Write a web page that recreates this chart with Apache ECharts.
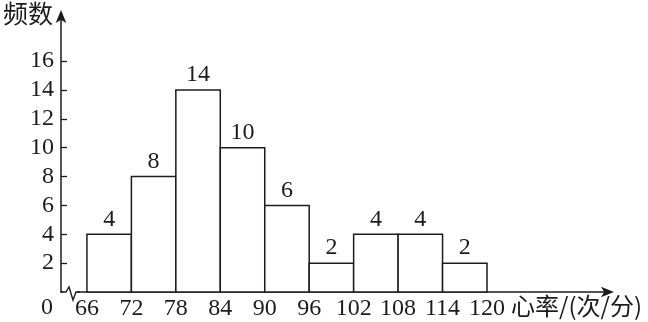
<!DOCTYPE html>
<html>
<head>
<meta charset="utf-8">
<style>html,body{margin:0;padding:0;background:#fff}#c{width:648px;height:322px}</style>
<script src="https://cdn.jsdelivr.net/npm/echarts@6/dist/echarts.min.js"></script>
</head>
<body>
<div id="c"></div>
<script>
var binStarts = [66, 72, 78, 84, 90, 96, 102, 108, 114];
var binEnds = [72, 78, 84, 90, 96, 102, 108, 114, 120];
var frequencies = [4, 8, 14, 10, 6, 2, 4, 4, 2];
var xTickLabels = [66, 72, 78, 84, 90, 96, 102, 108, 114, 120];
var yTickLabels = [2, 4, 6, 8, 10, 12, 14, 16];
var yTitle = '频数';
var xTitle = '心率/(次/分)';

var data = binStarts.map(function (s, i) { return [s, binEnds[i], frequencies[i]]; });
var ink = '#1c1c1c';
var serif = 'Liberation Serif';
var cjk = 'Noto Sans CJK SC';

var chart = echarts.init(document.getElementById('c'), null, {renderer: 'canvas'});
chart.setOption({
  animation: false,
  backgroundColor: '#fff',
  grid: {left: 61, right: 38, top: 14, bottom: 30, containLabel: false},
  xAxis: {
    type: 'value', min: 62.5, max: 136.6,
    splitLine: {show: false},
    axisLine: {show: true, lineStyle: {color: ink, width: 1.5}, symbol: ['none', 'arrow'], symbolSize: [8, 13], symbolOffset: [0, 4]},
    axisTick: {show: false},
    axisLabel: {customValues: xTickLabels, color: ink, fontFamily: serif, fontSize: 24, margin: 5, showMinLabel: true, showMaxLabel: true}
  },
  yAxis: {
    type: 'value', min: 0, max: 19.26,
    splitLine: {show: false},
    axisLine: {show: true, lineStyle: {color: ink, width: 1.5}, symbol: ['none', 'arrow'], symbolSize: [8, 13], symbolOffset: [0, 4]},
    axisTick: {show: true, inside: true, length: 6, customValues: yTickLabels, lineStyle: {color: ink, width: 1.3}},
    axisLabel: {customValues: yTickLabels, color: ink, fontFamily: serif, fontSize: 24, margin: 7}
  },
  series: [{
    type: 'custom',
    data: data,
    encode: {x: [0, 1], y: 2},
    renderItem: function (params, api) {
      var p0 = api.coord([api.value(0), api.value(2)]);
      var p1 = api.coord([api.value(1), 0]);
      return {
        type: 'group',
        children: [{
          type: 'rect',
          shape: {x: p0[0], y: p0[1], width: p1[0] - p0[0], height: p1[1] - p0[1]},
          style: {fill: '#fff', stroke: ink, lineWidth: 1.5}
        }, {
          type: 'text',
          style: {
            text: String(api.value(2)), x: (p0[0] + p1[0]) / 2, y: p0[1] - 3,
            align: 'center', verticalAlign: 'bottom',
            fontFamily: serif, fontSize: 24, fill: ink
          }
        }]
      };
    }
  }],
  graphic: [
    {type: 'text', left: 3, top: 1, z: 100, style: {text: yTitle, fontFamily: cjk, fontSize: 25, fill: ink}},
    {type: 'text', left: 511, top: 294, z: 100, style: {text: xTitle, fontFamily: cjk, fontSize: 24, fill: ink}},
    {type: 'text', left: 41, top: 296, z: 100, style: {text: '0', fontFamily: serif, fontSize: 24, fill: ink}},
    {type: 'rect', z: 100, shape: {x: 63, y: 288, width: 14, height: 8}, style: {fill: '#fff'}},
    {type: 'polyline', z: 101, shape: {points: [[61, 292], [66, 292], [69, 287], [73, 300], [76, 292], [80, 292]]}, style: {stroke: ink, lineWidth: 1.4, fill: null}}
  ]
});
</script>
</body>
</html>
